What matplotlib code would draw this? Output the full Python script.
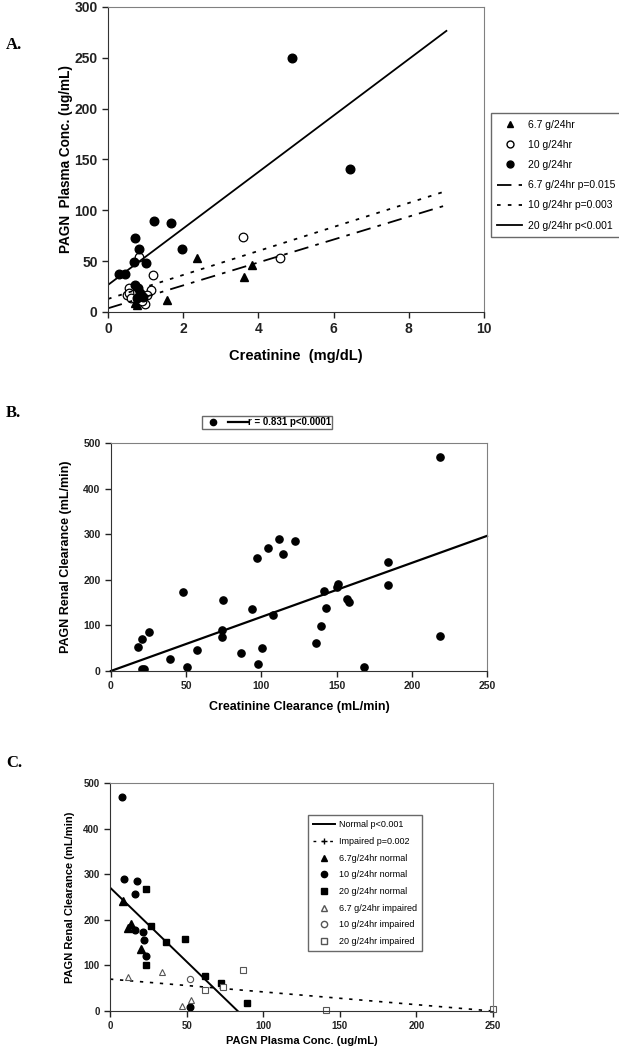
import matplotlib
matplotlib.use("Agg")
import numpy as np
import matplotlib.pyplot as plt
from matplotlib.lines import Line2D

plt.rcParams['font.family'] = ['Liberation Sans', 'DejaVu Sans']

# --- A: plasma PAGN vs creatinine ---
a_67_x = [2.38, 3.84, 3.62, 1.58, 0.72, 0.85, 0.78]
a_67_y = [53, 46, 34, 12, 9, 11, 7]
a_10_x = [3.58, 4.57, 1.20, 0.83, 0.57, 1.14, 0.50, 0.55, 0.98, 0.90, 0.62, 1.05]
a_10_y = [74, 53, 36, 54, 24, 22, 17, 19, 8, 11, 14, 17]
a_20_x = [4.90, 6.44, 1.22, 1.68, 0.72, 0.82, 1.98, 0.70, 1.00, 0.30, 0.45,
          0.72, 0.80, 0.85, 0.92, 0.78]
a_20_y = [250, 141, 89, 87, 73, 62, 62, 49, 48, 37, 37, 27, 24, 19, 15, 14]
a_fit_x = [0, 9]
a_fit_67 = (3.6, 11.27)   # intercept, slope
a_fit_10 = (12.8, 11.8)
a_fit_20 = (26.6, 27.76)

# --- B: renal clearance vs creatinine clearance ---
b_x = [17.7, 20.8, 25.5, 20.4, 22.2, 39.2, 48.1, 50.7, 57.0, 74.3, 73.6, 73.9,
       86.2, 94.0, 96.9, 97.5, 100.2, 104.6, 107.5, 111.9, 114.4, 122.5, 136.3,
       139.4, 141.8, 142.7, 150.5, 151.1, 156.7, 158.0, 168.4, 184.0, 184.2,
       219.0, 219.0]
b_y = [52, 69.5, 85, 3.7, 3.7, 26, 172.5, 9.5, 46, 156, 90, 74, 39, 136, 248.5,
       16, 50, 269, 123, 289.5, 257, 284, 62, 99, 176, 137, 184, 191, 158, 152,
       9, 238, 188, 469, 77]
b_fit_x = [0, 250]
b_fit = (0.0, 1.185)

# --- C: renal clearance vs plasma conc ---
c_n67_x = [8.7, 13.5, 12.0, 20.4]
c_n67_y = [242, 190, 182, 137]
c_n10_x = [7.6, 9.4, 17.8, 16.1, 21.7, 16.3, 22.2, 23.2, 52.2]
c_n10_y = [469, 290, 285, 257, 173, 177, 155, 121, 9]
c_n20_x = [23.5, 26.5, 36.3, 49.1, 23.5, 61.8, 72.5, 89.6]
c_n20_y = [268, 187, 151, 158, 100, 77, 61, 17]
c_i67_x = [11.9, 34.1, 52.9, 46.7]
c_i67_y = [75, 85, 25, 10]
c_i10_x = [52.4]
c_i10_y = [70]
c_i20_x = [87.0, 62.2, 73.9, 140.8, 249.7]
c_i20_y = [90, 46, 52, 2, 4]
c_normal_x = [0, 83.4]
c_normal = (271, -3.25)
c_impaired_x = [0, 250]
c_impaired = (70, -0.28)


def style_axes(ax, fs):
    for s in ['top', 'right']:
        ax.spines[s].set_color('#808080')
    for s in ['left', 'bottom']:
        ax.spines[s].set_color('#333333')
    ax.tick_params(direction='out', length=4, width=1, labelsize=fs, colors='#222222')
    for lab in ax.get_xticklabels() + ax.get_yticklabels():
        lab.set_fontweight('bold')


def fit(xs, p):
    xs = np.array(xs, dtype=float)
    return p[0] + p[1] * xs


fig = plt.figure(figsize=(6.19, 10.5), dpi=100)

# panel A
ax = fig.add_axes([0.1745, 0.7029, 0.6074, 0.2905])
ax.plot(a_67_x, a_67_y, '^', color='black', ms=6, ls='none')
ax.plot(a_10_x, a_10_y, 'o', mfc='white', mec='black', mew=0.9, ms=6.2, ls='none')
ax.plot(a_20_x, a_20_y, 'o', color='black', ms=6.2, ls='none')
ax.plot(a_fit_x, fit(a_fit_x, a_fit_67), color='black', lw=1.3, ls=(0, (8, 4, 2, 4)))
ax.plot(a_fit_x, fit(a_fit_x, a_fit_10), color='black', lw=1.3, ls=(0, (2, 4)))
ax.plot(a_fit_x, fit(a_fit_x, a_fit_20), color='black', lw=1.3)
ax.set_xlim(0, 10)
ax.set_ylim(0, 300)
ax.set_xticks(range(0, 11, 2))
ax.set_yticks(range(0, 301, 50))
style_axes(ax, 10)
ax.set_xlabel('Creatinine  (mg/dL)', fontsize=10.5, fontweight='bold', labelpad=9)
ax.set_ylabel('PAGN  Plasma Conc. (ug/mL)', fontsize=9.8, fontweight='bold', labelpad=1)
handles = [
    Line2D([], [], marker='^', color='black', ls='none', ms=5),
    Line2D([], [], marker='o', mfc='white', mec='black', ls='none', ms=5),
    Line2D([], [], marker='o', color='black', ls='none', ms=5),
    Line2D([], [], color='black', lw=1.3, ls=(0, (8, 4, 2, 4))),
    Line2D([], [], color='black', lw=1.3, ls=(0, (2, 4))),
    Line2D([], [], color='black', lw=1.3),
]
labels = ['6.7 g/24hr', '10 g/24hr', '20 g/24hr', '6.7 g/24hr p=0.015',
          '10 g/24hr p=0.003', '20 g/24hr p<0.001']
leg = fig.legend(handles, labels, loc='upper left', bbox_to_anchor=(0.785, 0.897),
                 fontsize=7.5, frameon=True, fancybox=False, edgecolor='#444444',
                 handlelength=2.4, labelspacing=0.98, borderpad=0.6, handletextpad=0.5)
leg.get_frame().set_linewidth(1.0)
fig.text(0.01, 0.957, 'A.', fontsize=12, fontweight='bold', family='Liberation Serif',
         va='center')

# panel B
ax = fig.add_axes([0.1793, 0.3610, 0.6074, 0.2171])
ax.plot(b_x, b_y, 'o', color='black', ms=5.2, ls='none')
ax.plot(b_fit_x, fit(b_fit_x, b_fit), color='black', lw=1.6, clip_on=False)
ax.set_xlim(0, 250)
ax.set_ylim(0, 500)
ax.set_xticks(range(0, 251, 50))
ax.set_yticks(range(0, 501, 100))
style_axes(ax, 7.5)
ax.set_xlabel('Creatinine Clearance (mL/min)', fontsize=9, fontweight='bold', labelpad=7)
ax.set_ylabel('PAGN Renal Clearance (mL/min)', fontsize=9, fontweight='bold', labelpad=8)
handles = [Line2D([], [], marker='o', color='black', ls='none', ms=4.5),
           Line2D([], [], color='black', lw=1.6)]
leg = fig.legend(handles, ['', 'r = 0.831 p<0.0001'], loc='upper left',
                 bbox_to_anchor=(0.318, 0.6087), ncol=2, fontsize=7, frameon=True,
                 fancybox=False, edgecolor='#444444', handlelength=2.0,
                 borderpad=0.15, handletextpad=0.0, columnspacing=0.6,
                 prop={'weight': 'bold', 'size': 7})
leg.get_frame().set_linewidth(1.0)
fig.text(0.01, 0.607, 'B.', fontsize=12, fontweight='bold', family='Liberation Serif',
         va='center')

# panel C
ax = fig.add_axes([0.1777, 0.0371, 0.6187, 0.2171])
ax.plot(c_normal_x, fit(c_normal_x, c_normal), color='black', lw=1.4)
ax.plot(c_impaired_x, fit(c_impaired_x, c_impaired), color='black', lw=1.2,
        ls=(0, (2, 4)))
ax.plot(c_n67_x, c_n67_y, '^', color='black', ms=6, ls='none')
ax.plot(c_n10_x, c_n10_y, 'o', color='black', ms=4.8, ls='none')
ax.plot(c_n20_x, c_n20_y, 's', color='black', ms=4.8, ls='none')
ax.plot(c_i67_x, c_i67_y, '^', mfc='white', mec='#555555', mew=0.8, ms=5, ls='none')
ax.plot(c_i10_x, c_i10_y, 'o', mfc='white', mec='#555555', mew=0.8, ms=4.5, ls='none')
ax.plot(c_i20_x, c_i20_y, 's', mfc='white', mec='#555555', mew=0.8, ms=4.8, ls='none',
        clip_on=False)
ax.set_xlim(0, 250)
ax.set_ylim(0, 500)
ax.set_xticks(range(0, 251, 50))
ax.set_yticks(range(0, 501, 100))
style_axes(ax, 7)
ax.set_xlabel('PAGN Plasma Conc. (ug/mL)', fontsize=8, fontweight='bold', labelpad=3)
ax.set_ylabel('PAGN Renal Clearance (mL/min)', fontsize=8, fontweight='bold', labelpad=6)
handles = [
    Line2D([], [], color='black', lw=1.4),
    Line2D([], [], color='black', lw=1.0, ls=(0, (2, 4)), marker='+', ms=5),
    Line2D([], [], marker='^', color='black', ls='none', ms=4.5),
    Line2D([], [], marker='o', color='black', ls='none', ms=4.5),
    Line2D([], [], marker='s', color='black', ls='none', ms=4.5),
    Line2D([], [], marker='^', mfc='white', mec='#555555', ls='none', ms=4.5),
    Line2D([], [], marker='o', mfc='white', mec='#555555', ls='none', ms=4.5),
    Line2D([], [], marker='s', mfc='white', mec='#555555', ls='none', ms=4.5),
]
labels = ['Normal p<0.001', 'Impaired p=0.002', '6.7g/24hr normal',
          '10 g/24hr normal', '20 g/24hr normal', '6.7 g/24hr impaired',
          '10 g/24hr impaired', '20 g/24hr impaired']
leg = fig.legend(handles, labels, loc='upper left', bbox_to_anchor=(0.49, 0.2282),
                 fontsize=6.5, frameon=True, fancybox=False, edgecolor='#444444',
                 handlelength=2.4, labelspacing=0.85, borderpad=0.6, handletextpad=0.4)
leg.get_frame().set_linewidth(1.0)
fig.text(0.01, 0.273, 'C.', fontsize=12, fontweight='bold', family='Liberation Serif',
         va='center')

fig.savefig('out.png', dpi=100)
